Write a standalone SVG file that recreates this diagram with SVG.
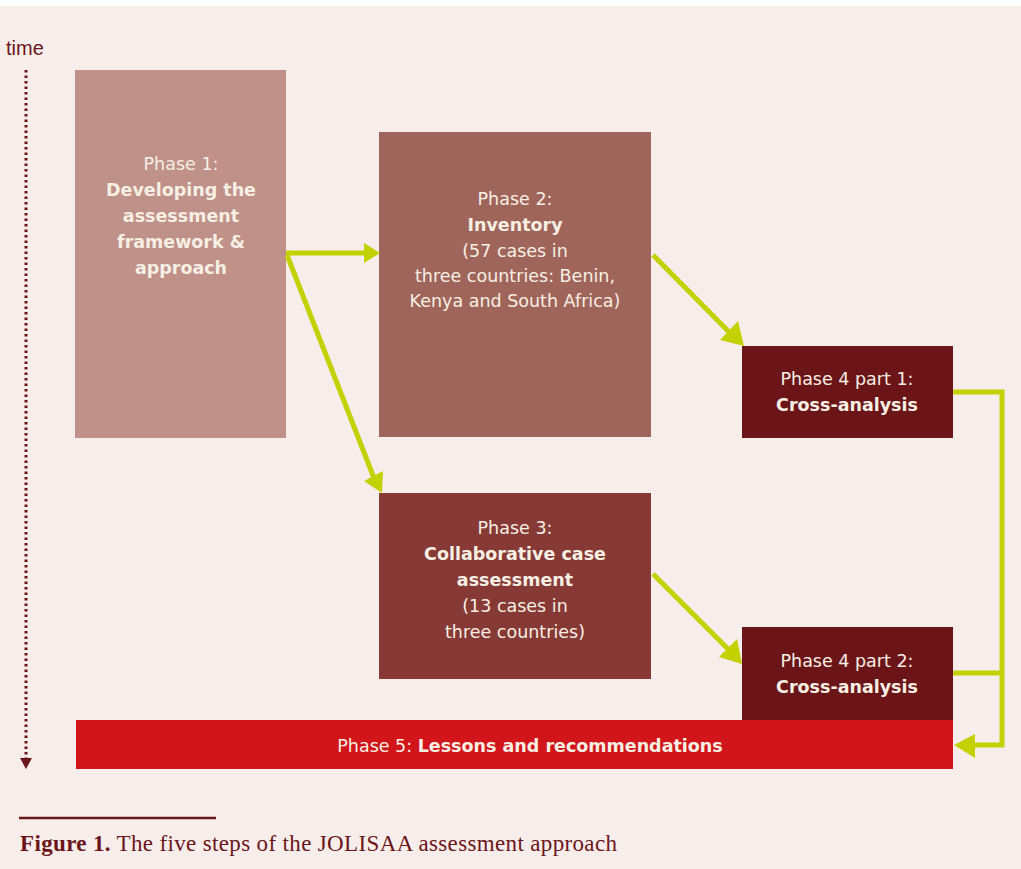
<svg xmlns="http://www.w3.org/2000/svg" width="1021" height="869" viewBox="0 0 1021 869">
<defs>
<style>
.t{font-family:"DejaVu Sans",Verdana,sans-serif;font-size:17.5px;fill:#F6EFE4;text-anchor:middle}
.b{font-weight:bold}
.c{fill:none;stroke:#C3D100;stroke-width:5}
.cap{font-family:"Liberation Serif","Times New Roman",serif;font-size:23px;fill:#6B1519}
</style>
</defs>
<rect x="0" y="0" width="1021" height="869" fill="#FFFFFF"/>
<rect x="0" y="6" width="1021" height="863" fill="#F7EEEC"/>

<g id="timeline">
<text x="6" y="55" font-family="Liberation Sans,Arial,sans-serif" font-size="20" fill="#6B1519">time</text>
<line x1="26" y1="70" x2="26" y2="760" stroke="#6B1519" stroke-width="3" stroke-dasharray="2.5,3"/>
<path d="M20,758 L32,758 L26,769 Z" fill="#6B1519"/>
</g>

<g id="phase1">
<rect x="75" y="70" width="211" height="368" fill="#BF9188"/>
<text class="t" x="181" y="170">Phase 1:</text>
<text class="t b" x="181" y="196">Developing the</text>
<text class="t b" x="181" y="222">assessment</text>
<text class="t b" x="181" y="248">framework &amp;</text>
<text class="t b" x="181" y="274">approach</text>
</g>

<g id="phase2">
<rect x="379" y="132" width="272" height="305" fill="#A0655A"/>
<text class="t" x="515" y="205">Phase 2:</text>
<text class="t b" x="515" y="231">Inventory</text>
<text class="t" x="515" y="257">(57 cases in</text>
<text class="t" x="515" y="282">three countries: Benin,</text>
<text class="t" x="515" y="307">Kenya and South Africa)</text>
</g>

<g id="phase3">
<rect x="379" y="493" width="272" height="186" fill="#873A35"/>
<text class="t" x="515" y="534">Phase 3:</text>
<text class="t b" x="515" y="560">Collaborative case</text>
<text class="t b" x="515" y="586">assessment</text>
<text class="t" x="515" y="612">(13 cases in</text>
<text class="t" x="515" y="638">three countries)</text>
</g>

<g id="phase4a">
<rect x="742" y="346" width="211" height="92" fill="#6B1519"/>
<text class="t" x="847" y="385">Phase 4 part 1:</text>
<text class="t b" x="847" y="411">Cross-analysis</text>
</g>

<g id="phase4b">
<rect x="742" y="627" width="211" height="94" fill="#6B1519"/>
<text class="t" x="847" y="667">Phase 4 part 2:</text>
<text class="t b" x="847" y="693">Cross-analysis</text>
</g>

<g id="phase5">
<rect x="76" y="720" width="877" height="49" fill="#D2151A"/>
<text class="t" x="530" y="752"><tspan>Phase 5: </tspan><tspan class="b">Lessons and recommendations</tspan></text>
</g>

<g id="connectors">
<path class="c" d="M286,253 L364,253"/>
<path d="M364,243 L380,253 L364,263 Z" fill="#C3D100"/>
<path class="c" d="M287,255 L374,478"/>
<path d="M364,481 L382,493 L383,471 Z" fill="#C3D100"/>
<path class="c" d="M653,255 L732,335"/>
<path d="M720,340 L744,346 L738,321 Z" fill="#C3D100"/>
<path class="c" d="M653,574 L731,652"/>
<path d="M719,657 L742,664 L737,639 Z" fill="#C3D100"/>
<path class="c" d="M953,392 L1002,392 L1002,745 L968,745"/>
<path class="c" d="M953,673 L1002,673"/>
<path d="M975,734 L954,745 L975,758 Z" fill="#C3D100"/>
</g>

<g id="caption">
<line x1="19" y1="818" x2="216" y2="818" stroke="#6B1519" stroke-width="2.5"/>
<text class="cap" x="20" y="851" textLength="597"><tspan font-weight="bold">Figure 1.</tspan> The five steps of the JOLISAA assessment approach</text>
</g>
</svg>
